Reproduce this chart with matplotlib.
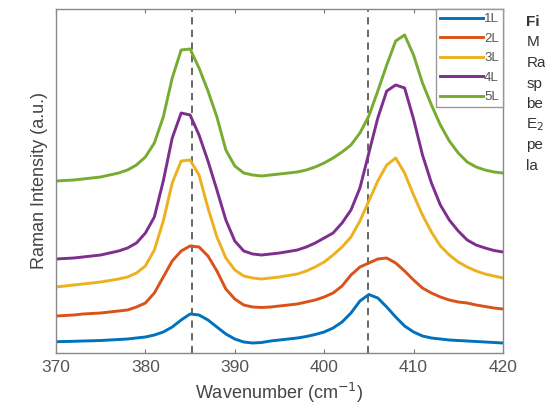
import matplotlib.pyplot as plt

plt.rcParams["font.family"] = ["Liberation Sans", "DejaVu Sans"]

# Raman spectra (arbitrary intensity units)
wavenumber = list(range(370, 421))

int_1L = [11.3, 11.5, 11.7, 12, 12.2, 12.5, 13, 13.5, 14, 15, 16,
          18, 21, 26, 33, 39, 38, 33, 26, 19, 14,
          11, 10, 10.5, 12, 13, 14, 15, 16.5, 18.5, 21,
          25, 31, 40, 52, 58.5, 55, 46, 36, 27, 21,
          17, 15, 14, 13, 12.5, 12, 11.5, 11, 10.5, 10]
int_2L = [37, 37.5, 38, 39, 39.5, 40, 41, 42, 43, 46, 50,
          60, 76, 92, 102, 107, 106, 97, 82, 64, 54,
          48, 46, 45.5, 46, 47, 48, 49, 51, 53, 56,
          60, 67, 78, 86, 90, 94, 95, 90, 82, 73,
          65, 60, 56, 53, 51, 50, 48, 46.5, 45, 44]
int_3L = [66, 67, 68, 69, 70, 71, 72.5, 74, 76, 80, 87,
          103, 132, 170, 192, 193, 178, 145, 116, 95, 83,
          77, 75, 74, 75, 76, 77.5, 79, 82, 86, 91,
          98, 106, 116, 132, 152, 172, 188, 195, 180, 158,
          138, 121, 107, 98, 91, 86, 82, 79, 77, 75]
int_4L = [94, 94.5, 95, 96, 97, 98, 100, 102, 105, 110, 120,
          136, 172, 215, 240, 238, 218, 192, 163, 133, 112,
          102, 99, 98, 99, 100, 101.5, 103, 106, 110, 115,
          120, 130, 143, 165, 200, 235, 262, 268, 265, 234,
          198, 170, 148, 133, 122, 113, 108, 105, 102.5, 101]
int_5L = [172, 172.5, 173, 174, 175, 176, 178, 180, 183, 188, 196,
          210, 236, 275, 303, 304, 285, 262, 236, 203, 187,
          180, 178, 177, 178, 179, 180, 181, 183, 186, 190,
          195, 201, 208, 220, 237, 262, 288, 312, 318, 298,
          270, 248, 228, 212, 200, 191, 186, 183, 181, 180]

series = [int_1L, int_2L, int_3L, int_4L, int_5L]
labels = ["1L", "2L", "3L", "4L", "5L"]
colors = ["#0072BD", "#D95319", "#EDB120", "#7E2F8E", "#77AC30"]

peak_positions = [385.2, 404.9]

caption_lines = ["Fi", "M", "Ra", "sp", "be", "E$_2$", "pe", "la"]


def main():
    fig = plt.figure(figsize=(5.45, 4.12), dpi=100)
    ax = fig.add_axes([0.1028, 0.1432, 0.820, 0.835])

    for y, lab, c in zip(series, labels, colors):
        ax.plot(wavenumber, y, color=c, lw=2.1, label=lab)

    for p in peak_positions:
        ax.axvline(p, color="#5a5a5a", ls=(0, (4, 3)), lw=1.3, zorder=0)

    ax.set_xlim(370, 420)
    ax.set_ylim(0, 344)
    ax.set_xticks(range(370, 421, 10))
    ax.set_yticks([])
    ax.tick_params(axis="x", direction="in", top=True, length=3,
                   color="#777777", labelcolor="#555555", labelsize=12.5, pad=5)
    for s in ax.spines.values():
        s.set_color("#888888")
        s.set_linewidth(1.0)

    ax.set_xlabel("Wavenumber (cm$^{-1}$)", fontsize=13, color="#444444", labelpad=4)
    ax.set_ylabel("Raman Intensity (a.u.)", fontsize=13, color="#444444", labelpad=6)

    leg = ax.legend(loc="upper right", borderaxespad=0, fancybox=False,
                    fontsize=9.5, handlelength=3.3, handletextpad=0.05,
                    labelspacing=0.55, borderpad=0.3, framealpha=1)
    leg.get_frame().set_edgecolor("#999999")
    leg.get_frame().set_linewidth(1.0)
    for t in leg.get_texts():
        t.set_color("#555555")

    y0 = 0.947
    for i, line in enumerate(caption_lines):
        fig.text(0.966, y0 - i * 0.050, line, fontsize=11, color="#333333",
                 fontweight="bold" if i == 0 else "normal", va="center")

    fig.savefig("out.png", dpi=100)
    plt.close(fig)


if __name__ == "__main__":
    main()
